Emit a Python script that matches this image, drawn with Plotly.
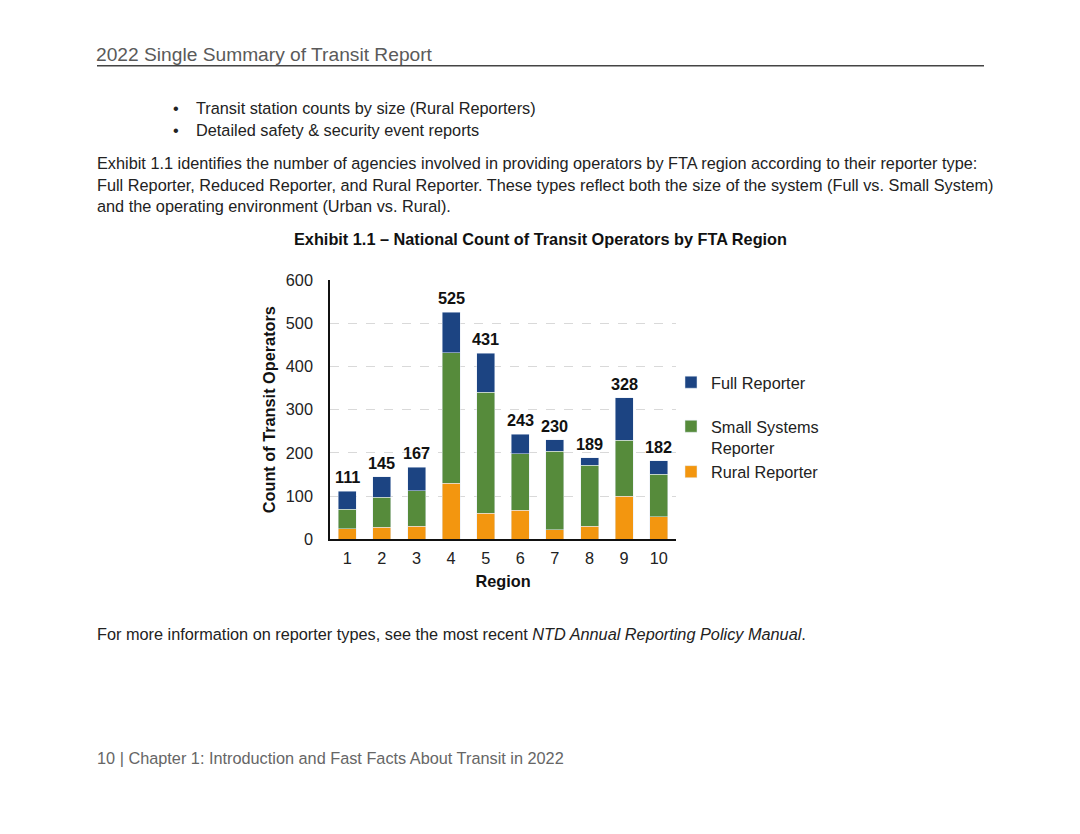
import plotly.graph_objects as go

regions = ["1", "2", "3", "4", "5", "6", "7", "8", "9", "10"]
rural = [24, 28, 30, 130, 61, 67, 22, 30, 100, 52]
small = [46, 70, 82, 302, 279, 131, 182, 141, 129, 99]
full = [41, 47, 55, 93, 91, 45, 26, 18, 99, 31]
totals = [111, 145, 167, 525, 431, 243, 230, 189, 328, 182]
y_ticks = [0, 100, 200, 300, 400, 500, 600]

W, H = 1080, 834
FONT = "Liberation Sans, Arial, sans-serif"
FS = 16.3

def px(x):
    return x / W

def py(y):
    # compensate for the vertical rendering transform observed in the viewer
    yd = (y - 9.4) / 0.977
    return 1 - yd / H

fig = go.Figure()
fig.add_trace(go.Bar(x=regions, y=rural, name="Rural Reporter", marker_color="#F3960F",
                     legend="legend2", legendgroup="r"))
fig.add_trace(go.Bar(x=regions, y=small, name="Small Systems<br>Reporter", marker_color="#568B3B",
                     legend="legend2", legendgroup="s"))
fig.add_trace(go.Bar(x=regions, y=full, name="Full Reporter", marker_color="#1C4482",
                     legend="legend", legendgroup="f"))

anns = []
for i, t in enumerate(totals):
    anns.append(dict(x=i, y=t, xref="x", yref="y", text="<b>" + str(t) + "</b>", showarrow=False,
                     yanchor="bottom", yshift=3, font=dict(family=FONT, size=FS, color="#111")))

def txt(x, y, s, size=FS, color="#222", xanchor="left", bold=False):
    if bold:
        s = "<b>" + s + "</b>"
    anns.append(dict(x=px(x), y=py(y), xref="paper", yref="paper", text=s, showarrow=False,
                     xanchor=xanchor, yanchor="middle", borderpad=0, borderwidth=0,
                     font=dict(family=FONT, size=size, color=color)))

txt(96, 55, "2022 Single Summary of Transit Report", size=19.2, color="#5a5a5a")
txt(173, 108, "•")
txt(173, 130, "•")
txt(196, 108, "Transit station counts by size (Rural Reporters)")
txt(196, 130, "Detailed safety &amp; security event reports")
txt(97, 163, "Exhibit 1.1 identifies the number of agencies involved in providing operators by FTA region according to their reporter type:")
txt(97, 185, "Full Reporter, Reduced Reporter, and Rural Reporter. These types reflect both the size of the system (Full vs. Small System)")
txt(97, 206, "and the operating environment (Urban vs. Rural).")
txt(540, 239, "Exhibit 1.1 – National Count of Transit Operators by FTA Region", xanchor="center", bold=True, color="#111")
txt(97, 633, "For more information on reporter types, see the most recent <i>NTD Annual Reporting Policy Manual</i>.")
txt(97, 757, "10 | Chapter 1: Introduction and Fast Facts About Transit in 2022", color="#666")

legend_common = dict(xanchor="left", yanchor="top", traceorder="reversed", valign="top",
                     font=dict(family=FONT, size=FS, color="#222"),
                     itemwidth=30, tracegroupgap=2, bgcolor="rgba(0,0,0,0)")

fig.update_layout(
    width=W, height=H,
    margin=dict(l=0, r=0, t=0, b=0),
    paper_bgcolor="white", plot_bgcolor="white",
    barmode="stack", bargap=0.48,
    font=dict(family=FONT, size=FS, color="#222"),
    showlegend=True,
    legend=dict(x=px(671), y=py(365), **legend_common),
    legend2=dict(x=px(671), y=py(409), **legend_common),
    annotations=anns,
    shapes=[dict(type="line", xref="paper", yref="paper", x0=px(97), x1=px(984), y0=py(66), y1=py(66),
                 line=dict(color="#444", width=1.5))],
    xaxis=dict(domain=[px(330), px(676)], showline=True, linecolor="#111", linewidth=1.5,
               ticks="", ticklabelstandoff=3, tickfont=dict(family=FONT, size=FS, color="#222"),
               title=dict(text="<b>Region</b>", font=dict(family=FONT, size=FS, color="#111"), standoff=10)),
    yaxis=dict(domain=[py(539), py(280)], range=[0, 600], tickvals=y_ticks,
               showline=True, linecolor="#111", linewidth=1.5, ticks="", ticklabelstandoff=12,
               showgrid=True, gridcolor="#d9d9d9", griddash="dash", gridwidth=1,
               zeroline=False,
               tickfont=dict(family=FONT, size=FS, color="#222"),
               title=dict(text="<b>Count of Transit Operators</b>", font=dict(family=FONT, size=FS, color="#111"), standoff=6)),
)

fig.write_html("out.html", config={"displayModeBar": False},
               post_script="document.body.style.margin='0';document.body.style.overflow='hidden';")
